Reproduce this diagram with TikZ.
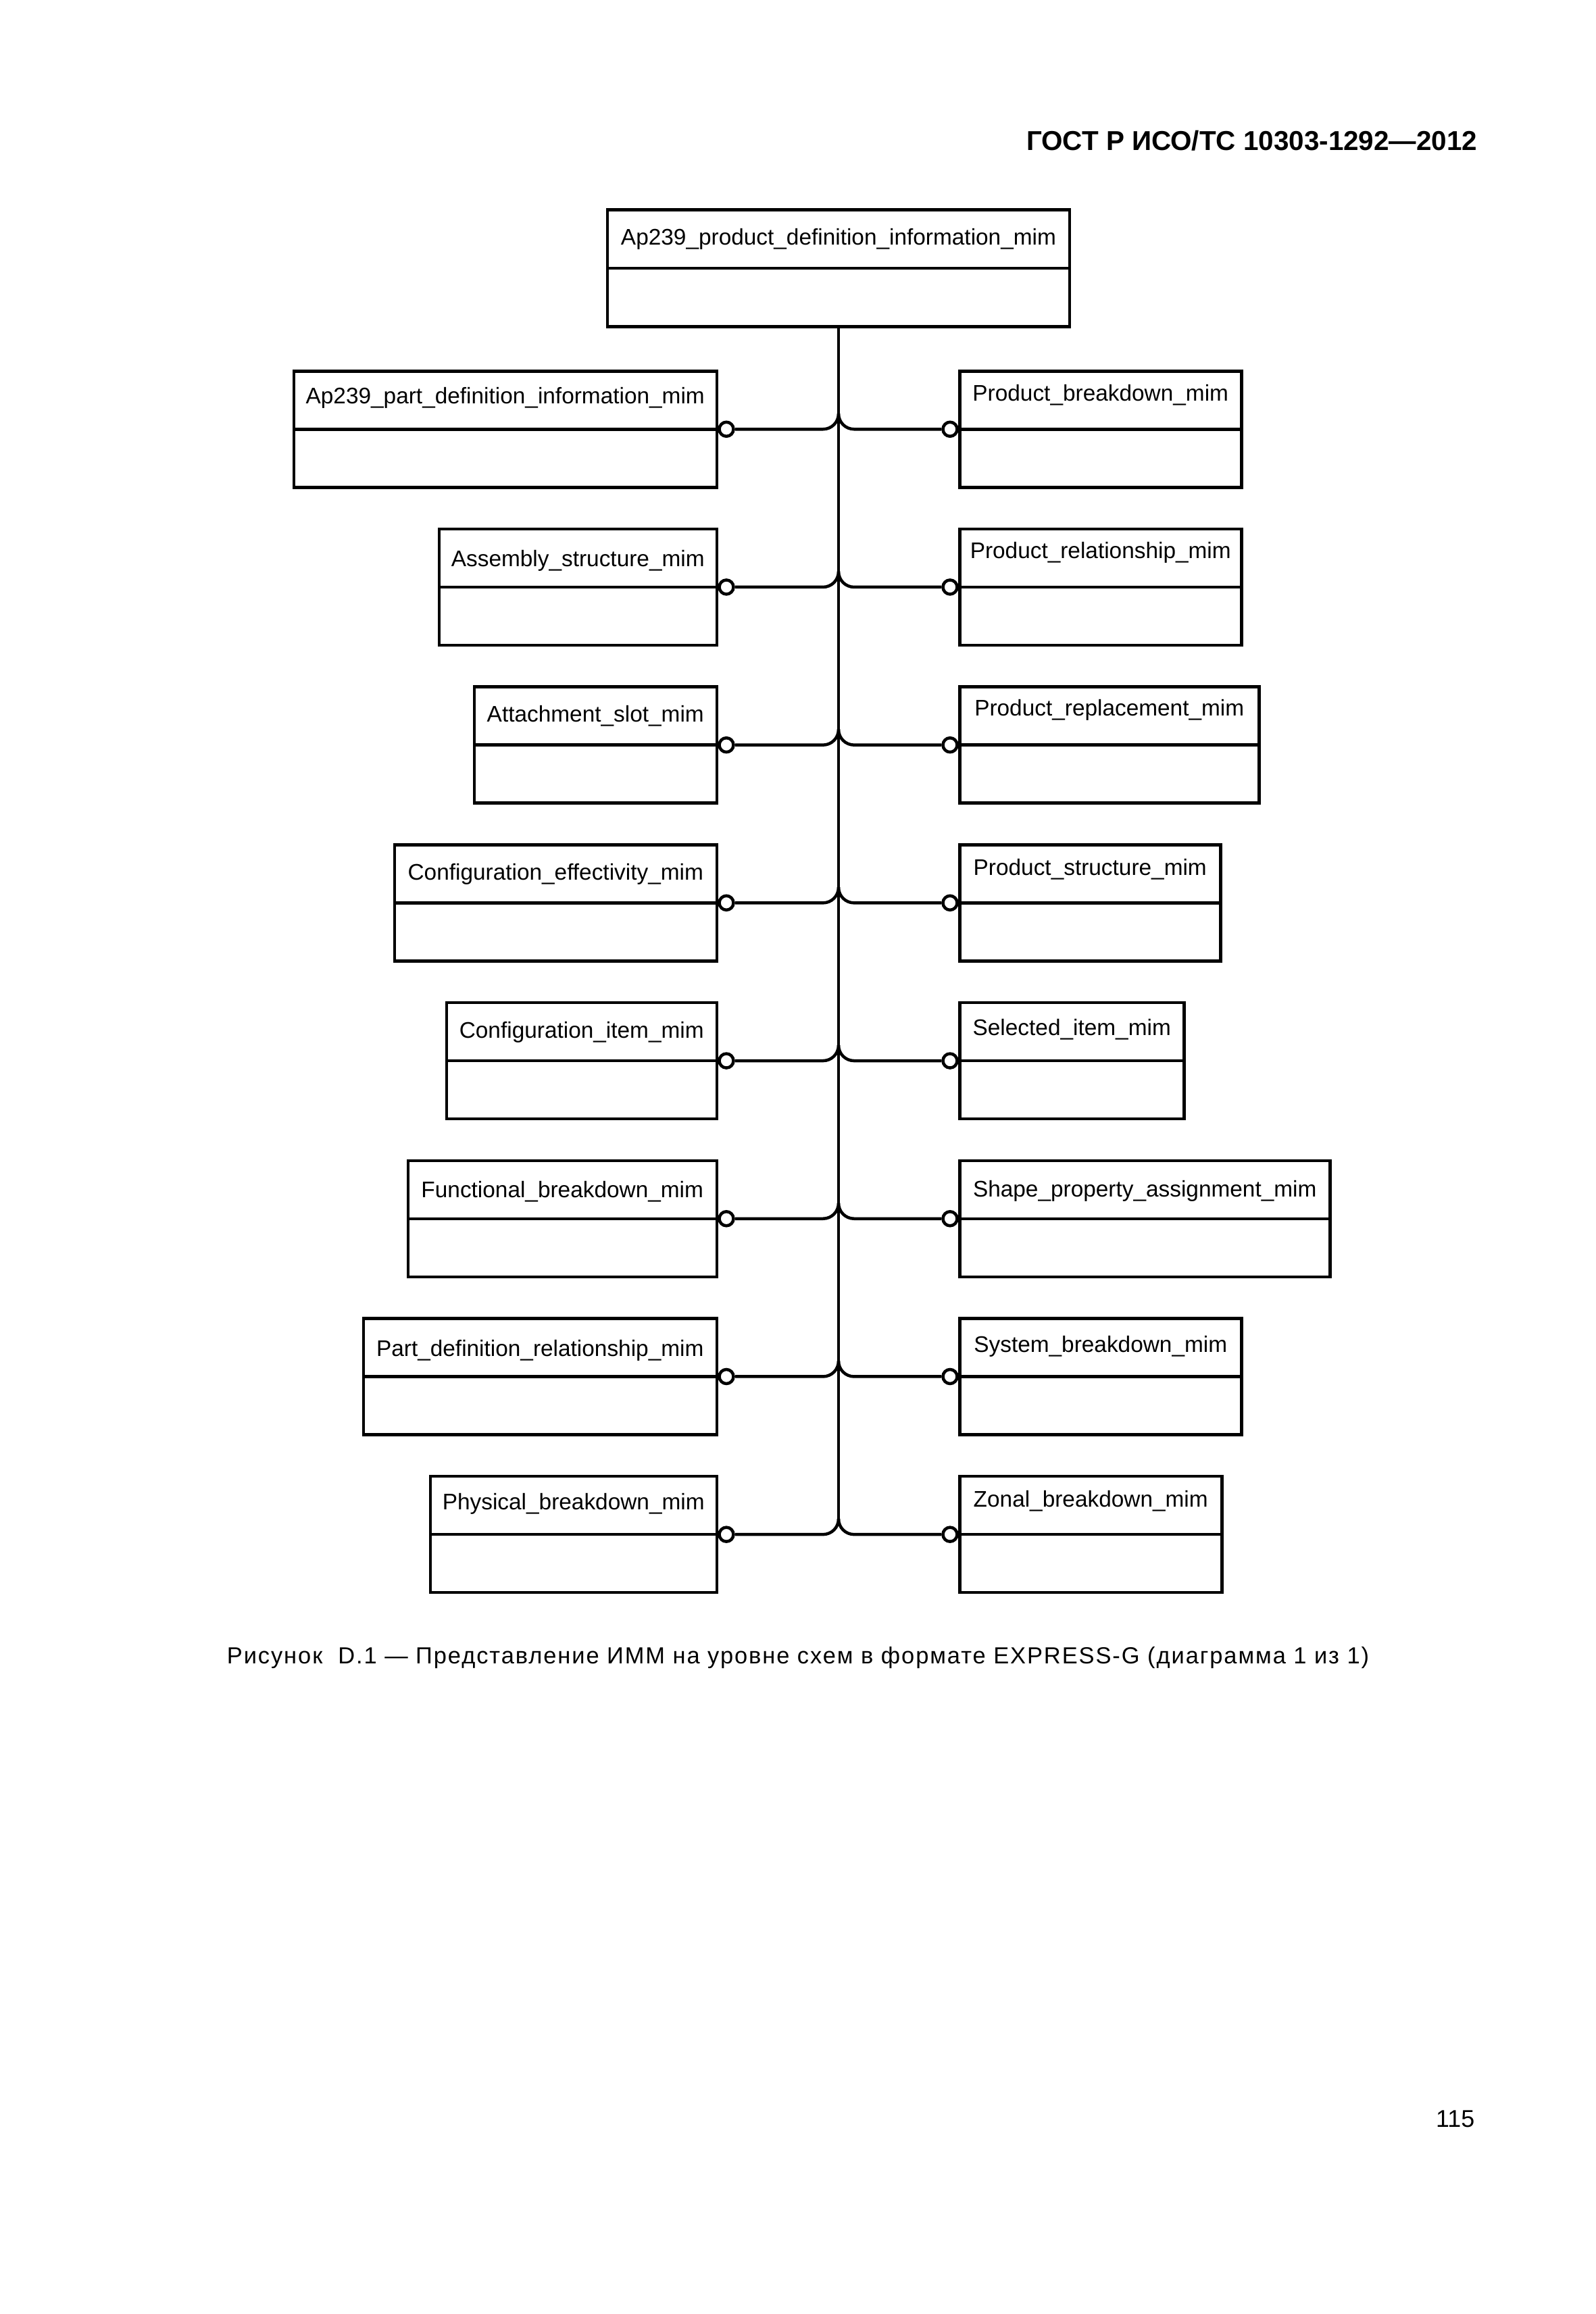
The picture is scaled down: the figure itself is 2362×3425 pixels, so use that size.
\documentclass[tikz,border=0pt]{standalone}
\usepackage{fontspec}
\setmainfont{Liberation Sans}
\newfontfamily\capfont[LetterSpace=5.6]{Liberation Sans}
\usetikzlibrary{calc}
\newcommand\mkleft[5]{%
  \node[box, minimum width=#3mm, anchor=north east] (#1) at (1063,#2) {};
  \node[lbl] (#1t) at ($(#1.north)+(0,#4)$) {#5};
  \node[ring] (#1c) at ($(#1.east)+(12,0)$) {};
  \draw[link] (#1c.east) -- (#1c.east -| T.south) -- ++(0,-23);
}
\newcommand\mkright[5]{%
  \node[box, minimum width=#3mm, anchor=north west] (#1) at (1418,#2) {};
  \node[lbl] (#1t) at ($(#1.north)+(0,#4)$) {#5};
  \node[ring] (#1c) at ($(#1.west)+(-12,0)$) {};
  \draw[link] (#1c.west) -- (#1c.west -| T.south) -- ++(0,-23);
}
\begin{document}
\begin{tikzpicture}[x=0.1mm,y=-0.1mm,
  box/.style={draw, line width=0.45mm, minimum height=17.2mm, inner sep=0pt,
    path picture={\draw[line width=0.45mm] (path picture bounding box.west) -- (path picture bounding box.east);}},
  lbl/.style={inner sep=0pt, anchor=base, font=\fontsize{9.5}{11}\selectfont},
  ring/.style={circle, draw, line width=0.45mm, fill=white, minimum size=2.1mm, inner sep=0pt},
  link/.style={line width=0.45mm, rounded corners=2.3mm}]
\useasboundingbox (0,0) rectangle (2362,3425);
\fill[white] (0,0) rectangle (2362,3425);

\node[anchor=base east, inner sep=0pt, font=\bfseries\fontsize{11.5}{13}\selectfont] (hdr) at (2187,222) {ГОСТ Р ИСО/ТС 10303-1292—2012};

\node[box, minimum width=68.4mm, minimum height=17.3mm, anchor=north] (T) at (1241,308) {};
\node[lbl] (Tt) at ($(T.north)+(0,54)$) {Ap239\_product\_definition\_information\_mim};

\mkleft{L1}{547}{62.6}{50}{Ap239\_part\_definition\_information\_mim}
\mkleft{L2}{780.7}{41.1}{58}{Assembly\_structure\_mim}
\mkleft{L3}{1014.4}{35.9}{54}{Attachment\_slot\_mim}
\mkleft{L4}{1248.1}{47.7}{54}{Configuration\_effectivity\_mim}
\mkleft{L5}{1481.8}{40.0}{55}{Configuration\_item\_mim}
\mkleft{L6}{1715.5}{45.7}{57}{Functional\_breakdown\_mim}
\mkleft{L7}{1949.2}{52.3}{58}{Part\_definition\_relationship\_mim}
\mkleft{L8}{2182.9}{42.4}{52}{Physical\_breakdown\_mim}

\mkright{R1}{547}{41.7}{46}{Product\_breakdown\_mim}
\mkright{R2}{780.7}{41.7}{46}{Product\_relationship\_mim}
\mkright{R3}{1014.4}{44.3}{45}{Product\_replacement\_mim}
\mkright{R4}{1248.1}{38.6}{47}{Product\_structure\_mim}
\mkright{R5}{1481.8}{33.2}{51}{Selected\_item\_mim}
\mkright{R6}{1715.5}{54.8}{56}{Shape\_property\_assignment\_mim}
\mkright{R7}{1949.2}{41.7}{52}{System\_breakdown\_mim}
\mkright{R8}{2182.9}{38.8}{48}{Zonal\_breakdown\_mim}

\coordinate (trunkend) at ($(L8c -| T.south)+(0,-23)$);
\draw[line width=0.45mm] (T.south) -- (trunkend);

\node[anchor=base, inner sep=0pt, font=\capfont\fontsize{9.8}{12}\selectfont] (cap) at (1181,2462) {Рисунок~~D.1 — Представление ИММ на уровне схем в формате EXPRESS-G (диаграмма 1 из 1)};

\node[anchor=base east, inner sep=0pt, font=\fontsize{10.2}{12}\selectfont] (pg) at (2183,3148) {115};
\end{tikzpicture}
\end{document}
